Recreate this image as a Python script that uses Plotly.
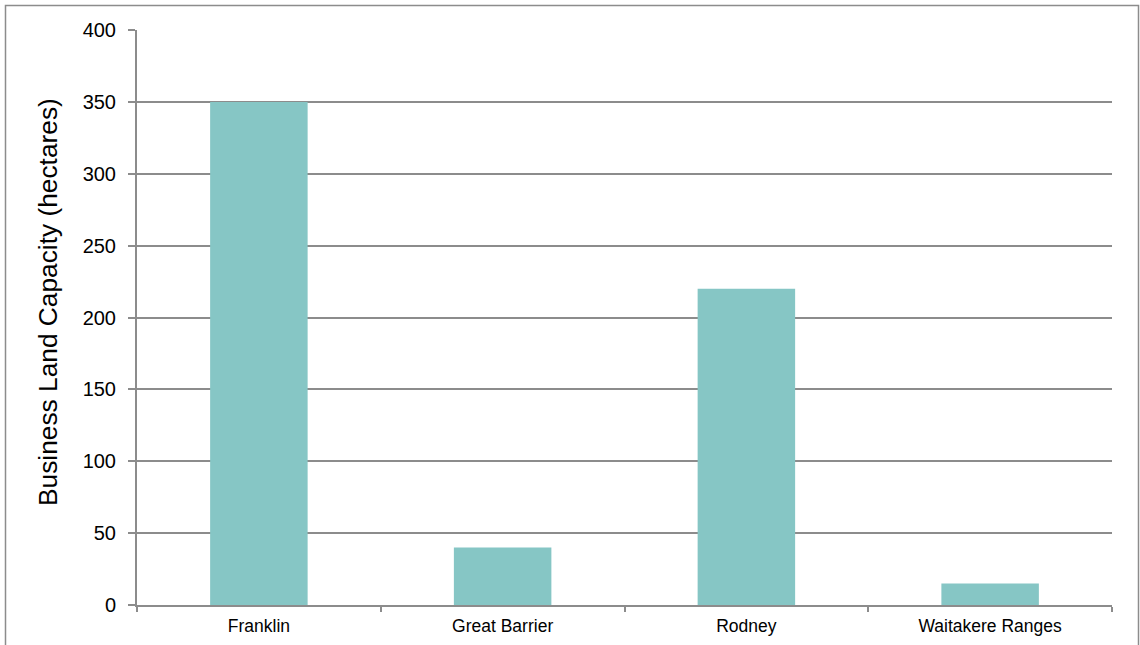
import plotly.graph_objects as go

categories = ["Franklin", "Great Barrier", "Rodney", "Waitakere Ranges"]
capacity = [350, 40, 220, 15]
y_ticks = [0, 50, 100, 150, 200, 250, 300, 350, 400]
y_title = "Business Land Capacity (hectares)"

fig = go.Figure(go.Bar(x=categories, y=capacity, marker=dict(color="#86C6C5", line=dict(width=0))))

L, R, T, B = 137, 1112, 30, 605
W, H = 1140, 645
pw, ph = R - L, B - T

def px(x):
    return (x - L) / pw

def py(y):
    return (B - y) / ph

fig.add_shape(type="rect", xref="paper", yref="paper",
              x0=px(5.5), x1=px(1138.5), y0=py(700), y1=py(5.5),
              line=dict(color="#8c8c8c", width=1.5), fillcolor="rgba(0,0,0,0)", layer="below")

fig.add_annotation(text=y_title, textangle=-90, xref="paper", yref="paper",
                   x=px(48), y=py(302), xanchor="center", yanchor="middle",
                   showarrow=False, font=dict(size=26.3, color="black"))

fig.update_layout(
    width=W, height=H,
    margin=dict(l=L, r=W - R, t=T, b=H - B),
    paper_bgcolor="white", plot_bgcolor="white",
    bargap=0.6,
    showlegend=False,
    font=dict(family="Liberation Sans, Arial, sans-serif", color="black"),
    xaxis=dict(showline=True, linecolor="#8c8c8c", linewidth=2, automargin=False,
               ticks="outside", tickson="boundaries", ticklen=5, tickcolor="#8c8c8c", tickwidth=1.5,
               tickfont=dict(size=17.5), ticklabelstandoff=4, showgrid=False),
    yaxis=dict(range=[0, 400], tickvals=y_ticks, showline=True, linecolor="#8c8c8c", linewidth=2,
               ticks="outside", ticklen=7, tickcolor="#8c8c8c", tickwidth=1.5, automargin=False,
               showgrid=True, gridcolor="#8c8c8c", gridwidth=1.5,
               tickfont=dict(size=20), ticklabelstandoff=8,
               zeroline=False),
)

fig.write_html("out.html", config={"displayModeBar": False},
               post_script="document.body.style.margin='0px';")
